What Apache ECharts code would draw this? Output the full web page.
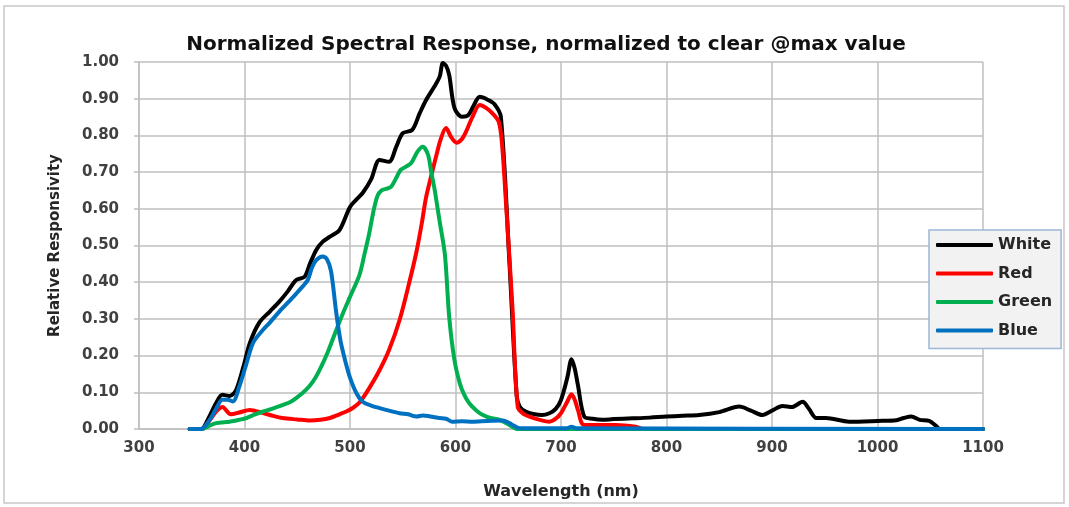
<!DOCTYPE html>
<html>
<head>
<meta charset="utf-8">
<script src="https://cdn.jsdelivr.net/npm/echarts@6/dist/echarts.min.js"></script>
<style>
html,body{margin:0;padding:0;background:#fff;}
#chart{width:1069px;height:507px;}
</style>
</head>
<body>
<div id="chart"></div>
<script>
// ---- Data ----
const titleText = 'Normalized Spectral Response, normalized to clear @max value';
const xName = 'Wavelength (nm)';
const yName = 'Relative Responsivity';
const seriesNames = ['White', 'Red', 'Green', 'Blue'];

const whiteNm  = [348, 359, 366, 373, 379, 386, 392, 399, 405, 414, 424, 433, 441, 449, 457, 462, 468, 474, 481, 490, 500, 506, 512, 520, 528, 537, 544, 550, 559, 566, 572, 580, 585, 588, 591, 594, 599, 606, 612, 617, 623, 630, 637, 643, 651, 658, 661, 667, 675, 682, 689, 695, 700, 706, 710, 713, 716, 722, 730, 739, 750, 768, 784, 800, 815, 831, 850, 869, 880, 891, 900, 910, 919, 929, 935, 942, 951, 973, 1000, 1018, 1025, 1032, 1040, 1049, 1055, 1059, 1100];
const whiteVal = [0, 0, 0.03, 0.07, 0.093, 0.09, 0.106, 0.17, 0.234, 0.29, 0.32, 0.347, 0.375, 0.406, 0.415, 0.45, 0.488, 0.51, 0.524, 0.542, 0.605, 0.625, 0.643, 0.68, 0.733, 0.728, 0.77, 0.806, 0.815, 0.86, 0.896, 0.933, 0.96, 0.997, 0.99, 0.965, 0.875, 0.851, 0.855, 0.88, 0.905, 0.898, 0.885, 0.85, 0.46, 0.09, 0.06, 0.047, 0.04, 0.038, 0.043, 0.055, 0.079, 0.14, 0.19, 0.165, 0.12, 0.034, 0.028, 0.025, 0.027, 0.029, 0.031, 0.034, 0.036, 0.038, 0.046, 0.061, 0.05, 0.038, 0.05, 0.063, 0.06, 0.074, 0.055, 0.03, 0.03, 0.02, 0.022, 0.024, 0.03, 0.034, 0.025, 0.022, 0.01, 0, 0];

const redNm  = [348, 359, 366, 373, 379, 387, 395, 405, 417, 428, 436, 450, 462, 472, 481, 490, 496, 503, 509, 518, 528, 537, 547, 556, 563, 568, 572, 577, 582, 586, 591, 596, 601, 606, 610, 616, 623, 629, 635, 641, 644, 648, 654, 659, 665, 670, 680, 689, 695, 700, 706, 710, 713, 716, 722, 752, 771, 778, 1100];
const redVal = [0, 0, 0.02, 0.047, 0.06, 0.04, 0.045, 0.052, 0.044, 0.035, 0.03, 0.026, 0.023, 0.025, 0.03, 0.04, 0.047, 0.058, 0.072, 0.11, 0.16, 0.215, 0.297, 0.397, 0.483, 0.56, 0.63, 0.69, 0.747, 0.79, 0.82, 0.795, 0.78, 0.79, 0.81, 0.85, 0.883, 0.875, 0.86, 0.837, 0.78, 0.61, 0.33, 0.06, 0.04, 0.034, 0.025, 0.02, 0.028, 0.043, 0.075, 0.095, 0.08, 0.052, 0.011, 0.011, 0.006, 0, 0];

const greenNm  = [348, 360, 366, 373, 386, 395, 402, 410, 417, 426, 436, 443, 449, 458, 465, 471, 479, 487, 494, 500, 509, 514, 518, 522, 526, 530, 535, 539, 544, 548, 553, 558, 564, 569, 574, 577, 580, 585, 590, 594, 599, 604, 608, 613, 620, 626, 633, 642, 651, 658, 1100];
const greenVal = [0, 0, 0.008, 0.016, 0.02, 0.025, 0.03, 0.04, 0.047, 0.055, 0.065, 0.073, 0.084, 0.106, 0.13, 0.16, 0.21, 0.27, 0.32, 0.36, 0.42, 0.48, 0.53, 0.59, 0.635, 0.65, 0.655, 0.66, 0.685, 0.706, 0.715, 0.725, 0.756, 0.769, 0.747, 0.7, 0.656, 0.565, 0.474, 0.306, 0.188, 0.125, 0.095, 0.07, 0.05, 0.038, 0.03, 0.025, 0.011, 0, 0];

const blueNm  = [348, 359, 367, 373, 379, 384, 389, 395, 401, 408, 416, 424, 433, 443, 450, 455, 460, 464, 468, 474, 478, 482, 487, 491, 496, 500, 506, 512, 520, 528, 537, 547, 555, 563, 569, 575, 580, 585, 591, 597, 606, 616, 630, 645, 651, 656, 661, 705, 710, 715, 1100];
const blueVal = [0, 0, 0.025, 0.055, 0.08, 0.08, 0.075, 0.115, 0.17, 0.234, 0.265, 0.29, 0.32, 0.35, 0.372, 0.388, 0.406, 0.44, 0.46, 0.47, 0.463, 0.43, 0.316, 0.24, 0.18, 0.14, 0.098, 0.074, 0.064, 0.057, 0.05, 0.043, 0.04, 0.034, 0.037, 0.035, 0.032, 0.03, 0.028, 0.02, 0.021, 0.02, 0.022, 0.023, 0.016, 0.008, 0.002, 0.002, 0.006, 0.002, 0];

const seriesColors = ['#000000', '#ff0000', '#00b050', '#0070c0'];
const seriesNmArrays = [whiteNm, redNm, greenNm, blueNm];
const seriesValArrays = [whiteVal, redVal, greenVal, blueVal];

// ---- Chart ----
const FONT = 'DejaVu Sans';
const gridColor = '#bfbfbf';
const chart = echarts.init(document.getElementById('chart'), null, {renderer: 'canvas'});

const series = seriesNames.map((name, i) => ({
  name: name,
  type: 'line',
  data: seriesNmArrays[i].map((x, j) => [x, seriesValArrays[i][j]]),
  smooth: 0.3,
  showSymbol: false,
  symbol: 'none',
  lineStyle: {color: seriesColors[i], width: 4, cap: 'round', join: 'round'},
  itemStyle: {color: seriesColors[i]},
  z: 2 + i
}));

chart.setOption({
  animation: false,
  backgroundColor: '#ffffff',
  graphic: [{
    type: 'rect',
    shape: {x: 4, y: 6, width: 1060, height: 497},
    style: {fill: 'none', stroke: '#c8c8c8', lineWidth: 1.5},
    silent: true, z: -10
  }],
  title: {
    text: titleText,
    left: 541,
    top: 30,
    textAlign: 'center',
    textStyle: {fontFamily: FONT, fontSize: 20, fontWeight: 'bold', color: '#111'}
  },
  grid: {left: 139, right: 86, top: 62, bottom: 78, containLabel: false},
  legend: {
    data: seriesNames,
    orient: 'vertical',
    left: 929,
    top: 230,
    icon: 'roundRect',
    itemWidth: 57,
    itemHeight: 4,
    itemGap: 12.5,
    padding: [7, 9, 10, 7],
    backgroundColor: '#f2f2f2',
    borderColor: '#9db7d9',
    borderWidth: 1.5,
    textStyle: {fontFamily: FONT, fontSize: 16, fontWeight: 'bold', color: '#262626'}
  },
  xAxis: {
    type: 'value',
    min: 300,
    max: 1100,
    interval: 100,
    name: xName,
    nameLocation: 'middle',
    nameGap: 55,
    nameTextStyle: {fontFamily: FONT, fontSize: 16, fontWeight: 'bold', color: '#262626'},
    axisLine: {show: true, lineStyle: {color: gridColor, width: 1.5}},
    axisTick: {show: false},
    axisLabel: {fontFamily: FONT, fontSize: 15, fontWeight: 'bold', color: '#404040', margin: 12,
      formatter: v => String(v)},
    splitLine: {show: true, lineStyle: {color: gridColor, width: 1.5}}
  },
  yAxis: {
    type: 'value',
    min: 0,
    max: 1,
    interval: 0.1,
    name: yName,
    nameLocation: 'middle',
    nameRotate: 90,
    nameGap: 76,
    nameTextStyle: {fontFamily: FONT, fontSize: 15, fontWeight: 'bold', color: '#262626'},
    axisLine: {show: true, lineStyle: {color: gridColor, width: 1.5}},
    axisTick: {show: true, length: 5, lineStyle: {color: gridColor, width: 1.5}},
    axisLabel: {fontFamily: FONT, fontSize: 15, fontWeight: 'bold', color: '#404040', margin: 20,
      formatter: v => v.toFixed(2)},
    splitLine: {show: true, lineStyle: {color: gridColor, width: 1.5}}
  },
  series: series
});
</script>
</body>
</html>
